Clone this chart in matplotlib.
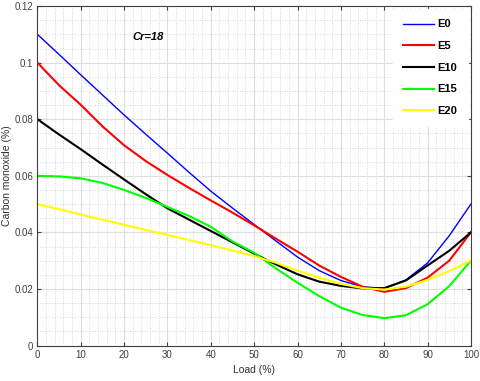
import numpy as np
import matplotlib
matplotlib.use('Agg')
import matplotlib.pyplot as plt
from matplotlib.ticker import MultipleLocator, FuncFormatter

load = [0, 5, 10, 15, 20, 25, 30, 35, 40, 45, 50,
        55, 60, 65, 70, 75, 80, 85, 90, 95, 100]

e0 = [0.110, 0.1029, 0.0957, 0.0886, 0.0815, 0.0747, 0.0680, 0.0612, 0.0546, 0.0486, 0.0428,
      0.0370, 0.0313, 0.0265, 0.0230, 0.0208, 0.0202, 0.0232, 0.0292, 0.0388, 0.050]
e5 = [0.100, 0.0920, 0.0851, 0.0775, 0.0708, 0.0652, 0.0603, 0.0557, 0.0513, 0.0470, 0.0425,
      0.0378, 0.0332, 0.0283, 0.0243, 0.0208, 0.0190, 0.0203, 0.0240, 0.0300, 0.040]
e10 = [0.080, 0.0746, 0.0694, 0.0640, 0.0587, 0.0535, 0.0485, 0.0445, 0.0405, 0.0365, 0.0325,
       0.0287, 0.0252, 0.0226, 0.0211, 0.0202, 0.0203, 0.0230, 0.0283, 0.0335, 0.040]
e15 = [0.060, 0.0598, 0.0591, 0.0575, 0.0550, 0.0522, 0.0490, 0.0458, 0.0420, 0.0368, 0.0328,
       0.0273, 0.0222, 0.0175, 0.0134, 0.0108, 0.0097, 0.0107, 0.0146, 0.0210, 0.030]
e20 = [0.050, 0.0482, 0.0463, 0.0445, 0.0427, 0.0409, 0.0391, 0.0373, 0.0355, 0.0336, 0.0316,
       0.0293, 0.0265, 0.0240, 0.0218, 0.0203, 0.0198, 0.0208, 0.0232, 0.0263, 0.030]

labels = ['E0', 'E5', 'E10', 'E15', 'E20']
series = [e0, e5, e10, e15, e20]
colours = ['#0000ff', '#ff0000', '#000000', '#00ff00', '#ffff00']
widths = [1.0, 1.5, 1.5, 1.5, 1.5]

plt.rcParams['font.family'] = ['Liberation Sans', 'DejaVu Sans']

fig = plt.figure(figsize=(4.8, 3.81), dpi=100)
ax = fig.add_axes([0.078, 0.093, 0.903, 0.891])

for data, lab, col, lw in zip(series, labels, colours, widths):
    ax.plot(load, data, color=col, lw=lw, label=lab)

ax.set_xlim(0, 100)
ax.set_ylim(0, 0.12)
ax.xaxis.set_major_locator(MultipleLocator(10))
ax.xaxis.set_minor_locator(MultipleLocator(2))
ax.yaxis.set_major_locator(MultipleLocator(0.02))
ax.yaxis.set_minor_locator(MultipleLocator(0.005))
ax.yaxis.set_major_formatter(FuncFormatter(lambda v, p: '%g' % round(v, 3)))

ax.grid(which='major', color='#dedede', lw=0.8, ls='-')
ax.grid(which='minor', color='#cccccc', lw=0.6, ls=(0, (1, 2)))
ax.set_axisbelow(True)

ax.tick_params(which='both', direction='in', top=True, right=True,
               labelsize=7, colors='#404040', length=3, pad=3)
ax.tick_params(which='minor', length=0)
for s in ax.spines.values():
    s.set_color('#404040')
    s.set_linewidth(0.8)

ax.set_xlabel('Load (%)', fontsize=7.5, color='#303030', labelpad=4)
ax.set_ylabel('Carbon monoxide (%)', fontsize=7.5, color='#303030', labelpad=2)

ax.text(25.6, 0.109, 'Cr=18', fontsize=8, fontweight='bold', style='italic',
        ha='center', va='center')

leg = ax.legend(loc='upper right', fontsize=8, frameon=True, fancybox=False,
                framealpha=1, edgecolor='white', handlelength=2.8,
                labelspacing=1.05, borderpad=0.9, handletextpad=0.3,
                borderaxespad=0.3)
for t in leg.get_texts():
    t.set_fontweight('bold')

fig.savefig('out.png', dpi=100)
